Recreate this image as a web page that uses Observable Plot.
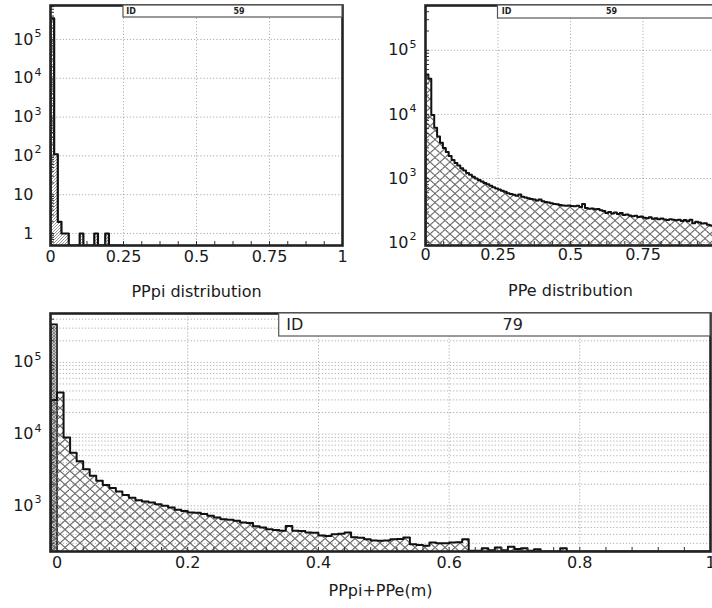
<!DOCTYPE html>
<html><head><meta charset="utf-8">
<script src="https://cdn.jsdelivr.net/npm/d3@7"></script>
<script src="https://cdn.jsdelivr.net/npm/@observablehq/plot@0.6"></script>
<style>
body{margin:0;background:#fff;}
#wrap{position:relative;width:712px;height:608px;overflow:hidden;background:#fff;font-family:"DejaVu Sans",sans-serif;}
.panel{position:absolute;}
.panel svg{overflow:visible;max-width:none !important;}
</style></head><body><div id="wrap"></div>
<script>
// ---------- Top-left: PPpi distribution ----------
const ppiBinStart = 0, ppiBinWidth = 0.0125;
const ppiCounts = [350000, 110, 2, 1, 1, 0, 0, 0, 1, 0, 0, 0, 1, 0, 0, 1, 0, 0, 0, 0];
const ppiYDomain = [0.49, 750000];
const ppiXTicks = [0, 0.25, 0.5, 0.75, 1];
const ppiXLabels = ["0", "0.25", "0.5", "0.75", "1"];
const ppiYTicks = [1, 10, 100, 1000, 10000, 100000];
const ppiYBase = ["1", "10", "10", "10", "10", "10"];
const ppiYSup = ["", "", "2", "3", "4", "5"];

// ---------- Top-right: PPe distribution ----------
const ppeBinStart = 0, ppeBinWidth = 0.01;
const ppeCounts = [
  42000, 36000, 9800, 6200, 4500, 3600, 3000, 2600, 2250, 1950,
  1750, 1600, 1450, 1330, 1220, 1140, 1060, 1000, 950, 900,
  850, 810, 770, 730, 700, 670, 645, 620, 590, 570,
  555, 540, 560, 520, 505, 490, 480, 470, 455, 470,
  440, 430, 420, 410, 400, 395, 385, 380, 375, 378,
  372, 370, 375, 360, 400, 345, 336, 340, 330, 335,
  320, 310, 290, 300, 285, 295, 280, 290, 270, 275,
  265, 258, 262, 250, 255, 245, 240, 248, 236, 240,
  232, 238, 230, 225, 232, 228, 222, 226, 218, 225,
  215, 228, 200, 212, 205, 198, 200, 190, 185, 188
];
const ppeYDomain = [90, 500000];
const ppeXTicks = [0, 0.25, 0.5, 0.75, 1];
const ppeXLabels = ["0", "0.25", "0.5", "0.75", "1"];
const ppeYTicks = [100, 1000, 10000, 100000];
const ppeYBase = ["10", "10", "10", "10"];
const ppeYSup = ["2", "3", "4", "5"];

// ---------- Bottom: PPpi+PPe(m) ----------
const sumBinStart = -0.01, sumBinWidth = 0.01;
const sumPiCounts = [340000];
const sumCounts = [
  30000,
  38000, 9000, 5500, 4200, 3250, 2620, 2230, 1960, 1770, 1580,
  1420, 1300, 1200, 1150, 1110, 1050, 1000, 950, 880, 850,
  810, 800, 770, 725, 690, 650, 640, 620, 585, 575,
  520, 500, 470, 460, 448, 525, 450, 445, 424, 420,
  385, 380, 403, 410, 424, 365, 360, 343, 330, 325,
  328, 343, 345, 361, 292, 285, 277, 308, 300, 300,
  308, 312, 343, 236, 236, 257, 240, 262, 240, 268,
  250, 257, 236, 248, 220, 210, 225, 257, 215, 200,
  190, 170, 180, 160, 150, 170, 140, 150, 130, 120,
  140, 110, 120, 100, 110, 90, 100, 95, 80, 90
];
const sumYDomain = [231, 480000];
const sumXTicks = [0, 0.2, 0.4, 0.6, 0.8, 1];
const sumXLabels = ["0", "0.2", "0.4", "0.6", "0.8", "1"];
const sumYTicks = [1000, 10000, 100000];
const sumYBase = ["10", "10", "10"];
const sumYSup = ["3", "4", "5"];

// ---------- Titles and stat boxes ----------
const titles = ["PPpi distribution", "PPe distribution", "PPpi+PPe(m)"];
const statLabels = ["ID", "ID", "ID"];
const statValues = ["59", "59", "79"];
const statX0 = [0.25, 0.25, 0.34];

// ---------- helpers ----------
function patternDefs() {
  return () => {
    const ns = "http://www.w3.org/2000/svg";
    const defs = document.createElementNS(ns, "defs");
    defs.innerHTML = `
      <pattern id="xh" patternUnits="userSpaceOnUse" width="10" height="9">
        <path d="M0,0L10,9M10,0L0,9" stroke="#6a6a6a" stroke-width="1.2" fill="none"/>
      </pattern>
      <pattern id="dh" patternUnits="userSpaceOnUse" width="3" height="3">
        <path d="M0,3L3,0M-1,1L1,-1M2,4L4,2" stroke="#8a8a8a" stroke-width="0.9" fill="none"/>
      </pattern>
      <pattern id="dd" patternUnits="userSpaceOnUse" width="3" height="3">
        <rect width="3" height="3" fill="#c4c4c4"/>
        <path d="M0,0L3,3M3,0L0,3" stroke="#777" stroke-width="0.8" fill="none"/>
      </pattern>`;
    return defs;
  };
}

function histMarks(start, w, counts, yMin, fill, strokeWidth = 2) {
  const bins = counts.map((c, i) => ({x1: start + i * w, x2: start + (i + 1) * w, y: c}));
  const pos = bins.filter(d => d.y > yMin);
  const last = bins[bins.length - 1];
  const pts = [{x: bins[0].x1, y: yMin}]
    .concat(bins.map(d => ({x: d.x1, y: Math.max(d.y, yMin)})))
    .concat([{x: last.x2, y: Math.max(last.y, yMin)}, {x: last.x2, y: yMin}]);
  return [
    Plot.rect(pos, {x1: "x1", x2: "x2", y1: yMin, y2: "y", fill, clip: true}),
    Plot.line(pts, {x: "x", y: "y", curve: "step-after", stroke: "#111", strokeWidth, clip: true})
  ];
}

function panel(cfg) {
  const yMinor = d3.scaleLog().domain(cfg.yDomain).ticks();
  const xMinor = d3.range(Math.ceil(cfg.xDomain[0] / cfg.xMinorStep), Math.floor(cfg.xDomain[1] / cfg.xMinorStep) + 1).map(k => k * cfg.xMinorStep);
  const gridStyle = {stroke: "#9a9a9a", strokeOpacity: 1, strokeDasharray: "1.2,2", strokeWidth: 0.8};
  const marks = [
    patternDefs(),
    Plot.gridX(cfg.xGrid, gridStyle),
    Plot.gridY(cfg.denseGrid ? yMinor : cfg.yTicks, gridStyle),
    ...cfg.hists,
    Plot.axisX(xMinor, {anchor: "bottom", tickSize: -4, tickFormat: () => "", stroke: "#333", label: null}),
    Plot.axisY(yMinor, {anchor: "left", tickSize: -4, tickFormat: () => "", stroke: "#333", label: null}),
    Plot.axisX(cfg.xTicks, {anchor: "bottom", tickSize: 0, tickPadding: cfg.tickPad, fontSize: 16, fill: "#1a1a1a",
      tickFormat: (d, i) => cfg.xLabels[i], label: null}),
    Plot.text(cfg.yTicks, {frameAnchor: "left", y: d => d, dx: -17, textAnchor: "end", fontSize: 16, fill: "#1a1a1a",
      text: (d, i) => cfg.yBase[i]}),
    Plot.text(cfg.yTicks, {frameAnchor: "left", y: d => d, dx: -16, dy: -6, textAnchor: "start", fontSize: 11, fill: "#1a1a1a",
      text: (d, i) => cfg.ySup[i]}),
    Plot.text([cfg.title], {frameAnchor: "bottom", dy: cfg.titleDy, fontSize: cfg.titleSize, fill: "#1a1a1a", text: d => d}),
    Plot.frame({stroke: "#222", strokeWidth: 2.6})
  ];
  const plot = Plot.plot({
    width: cfg.width, height: cfg.height,
    marginLeft: cfg.m[0], marginRight: cfg.m[1], marginTop: cfg.m[2], marginBottom: cfg.m[3],
    style: {fontFamily: "DejaVu Sans, sans-serif", background: "transparent", overflow: "visible", maxWidth: "none"},
    x: {domain: cfg.xDomain, axis: null},
    y: {type: "log", domain: cfg.yDomain, axis: null},
    marks
  });
  plot.style.maxWidth = "none";
  plot.style.width = cfg.width + "px";
  plot.style.height = cfg.height + "px";
  const div = document.createElement("div");
  div.className = "panel";
  div.style.left = cfg.left + "px";
  div.style.top = cfg.top + "px";
  div.style.width = cfg.width + "px";
  div.style.height = cfg.height + "px";
  div.appendChild(plot);
  document.getElementById("wrap").appendChild(div);

  // stat box
  const sx = plot.scale("x");
  const x1 = sx.apply(statX0[cfg.idx]);
  const x2 = cfg.width - cfg.m[1];
  const y1 = cfg.m[2];
  const svg = d3.select(plot);
  const g = svg.append("g");
  g.append("rect").attr("x", x1).attr("y", y1).attr("width", x2 - x1).attr("height", cfg.box.h)
    .attr("fill", "white").attr("stroke", "#555").attr("stroke-width", 1.2);
  g.append("text").attr("x", x1 + cfg.box.idDx).attr("y", y1 + cfg.box.h / 2).attr("dy", "0.35em")
    .attr("font-size", cfg.box.fs).attr("font-weight", cfg.box.fw).attr("fill", "#222").text(statLabels[cfg.idx]);
  g.append("text").attr("x", x1 + cfg.box.valDx).attr("y", y1 + cfg.box.h / 2).attr("dy", "0.35em")
    .attr("text-anchor", "middle").attr("font-size", cfg.box.fs).attr("font-weight", cfg.box.fw).attr("fill", "#222")
    .text(statValues[cfg.idx]);
  return plot;
}

panel({
  idx: 0, left: 0, top: 0, width: 360, height: 300, m: [50, 18, 5, 55],
  xDomain: [0, 1], yDomain: ppiYDomain, xTicks: ppiXTicks, xLabels: ppiXLabels,
  yTicks: ppiYTicks, yBase: ppiYBase, ySup: ppiYSup, xGrid: [0.25, 0.5, 0.75], xMinorStep: 0.0625,
  denseGrid: false, tickPad: 5, title: titles[0], titleDy: 51, titleSize: 16,
  hists: histMarks(ppiBinStart, ppiBinWidth, ppiCounts, ppiYDomain[0], "url(#dh)", 2.2),
  box: {h: 12, fs: 8, fw: "bold", idDx: 8, valDx: 116}
});

panel({
  idx: 1, left: 360, top: 0, width: 380, height: 300, m: [65, 25, 5, 55],
  xDomain: [0, 1], yDomain: ppeYDomain, xTicks: ppeXTicks, xLabels: ppeXLabels,
  yTicks: ppeYTicks, yBase: ppeYBase, ySup: ppeYSup, xGrid: [0.25, 0.5, 0.75], xMinorStep: 0.0625,
  denseGrid: false, tickPad: 3, title: titles[1], titleDy: 50, titleSize: 16,
  hists: histMarks(ppeBinStart, ppeBinWidth, ppeCounts, ppeYDomain[0], "url(#xh)", 2),
  box: {h: 13, fs: 8, fw: "bold", idDx: 9, valDx: 114}
});

panel({
  idx: 2, left: 0, top: 300, width: 712, height: 308, m: [50, 2, 13, 57],
  xDomain: [-0.01, 1], yDomain: sumYDomain, xTicks: sumXTicks, xLabels: sumXLabels,
  yTicks: sumYTicks, yBase: sumYBase, ySup: sumYSup, xGrid: [0.2, 0.4, 0.6, 0.8], xMinorStep: 0.04,
  denseGrid: true, tickPad: 5, title: titles[2], titleDy: 44, titleSize: 16,
  hists: [
    ...histMarks(sumBinStart, sumBinWidth, sumPiCounts, sumYDomain[0], "url(#dd)", 1.6),
    ...histMarks(sumBinStart, sumBinWidth, sumCounts, sumYDomain[0], "url(#xh)", 2)
  ],
  box: {h: 23, fs: 16, fw: "normal", idDx: 16, valDx: 234}
});
</script>
</body></html>
